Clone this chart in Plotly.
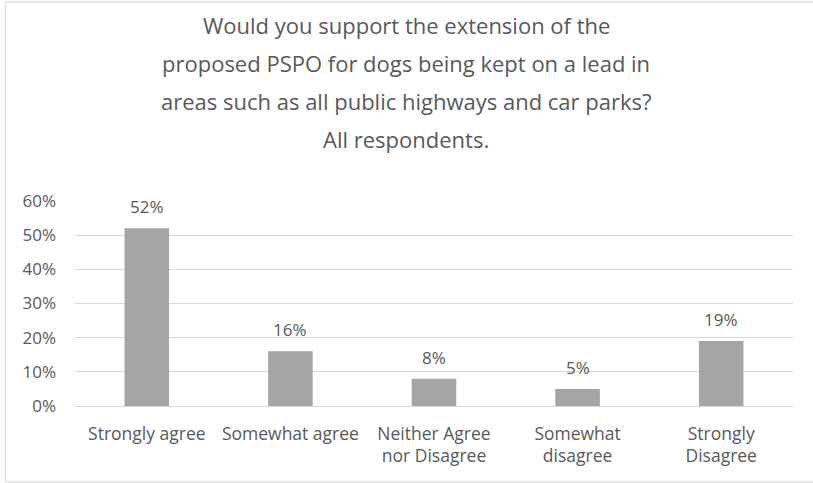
import plotly.graph_objects as go

categories = ["Strongly agree", "Somewhat agree", "Neither Agree<br>nor Disagree",
              "Somewhat<br>disagree", "Strongly<br>Disagree"]
values = [0.52, 0.16, 0.08, 0.05, 0.19]
tick_vals = [0, 0.1, 0.2, 0.3, 0.4, 0.5, 0.6]
tick_text = ["0%", "10%", "20%", "30%", "40%", "50%", "60%"]

title_lines = ["Would you support the extension of the",
               "proposed PSPO for dogs being kept on a lead in",
               "areas such as all public highways and car parks?",
               "All respondents."]

W, H = 813, 483
L, R, T, B = 75, 20, 200.7, 77.3
FONT = "Open Sans"
TXT = "#595959"
EDGE = "#D9D9D9"

fig = go.Figure(go.Bar(
    x=categories, y=values,
    marker=dict(color="#A5A5A5", line=dict(width=0)),
    width=0.31,
    hoverinfo="x+y",
))

# value labels above each bar
for c, v in zip(categories, values):
    fig.add_annotation(x=c, y=v, xref="x", yref="y", text=f"{v:.0%}",
                       showarrow=False, yanchor="bottom", yshift=8,
                       font=dict(size=17, color=TXT, family=FONT))

# helpers converting page pixels to paper coordinates
pw, ph = W - L - R, H - T - B
def px_x(p):
    return (p - L) / pw
def px_y(p):
    return (H - B - p) / ph

# four-line title with wider line spacing, centred on the page
for i, line in enumerate(title_lines):
    fig.add_annotation(x=px_x(406), xref="paper", y=px_y(25 + 38 * i), yref="paper",
                       xanchor="center", yanchor="middle", text=line,
                       showarrow=False,
                       font=dict(size=22, color=TXT, family=FONT))

# chart frame: top, left and bottom edges
frame = [(5.5, 1.5, 900, 1.5), (5.5, 1.5, 5.5, 481.5), (5.5, 481.5, 900, 481.5)]
for x0, y0, x1, y1 in frame:
    fig.add_shape(type="line", xref="paper", yref="paper",
                  x0=px_x(x0), y0=px_y(y0), x1=px_x(x1), y1=px_y(y1),
                  line=dict(color=EDGE, width=1.3), layer="below")

fig.update_layout(
    width=W, height=H,
    margin=dict(l=L, r=R, t=T, b=B),
    paper_bgcolor="white", plot_bgcolor="white",
    showlegend=False,
    bargap=0.69,
    font=dict(family=FONT, color=TXT, size=17),
    xaxis=dict(showgrid=False, showline=False, ticks="",
               ticklabelstandoff=15,
               tickfont=dict(size=17.5, color=TXT, family=FONT)),
    yaxis=dict(range=[0, 0.6], tickvals=tick_vals, ticktext=tick_text,
               showgrid=True, gridcolor=EDGE, gridwidth=1,
               zeroline=True, zerolinecolor=EDGE, zerolinewidth=1,
               showline=False, ticks="", ticklabelstandoff=18,
               tickfont=dict(size=17, color=TXT, family=FONT)),
)

fig.write_html("out.html")
